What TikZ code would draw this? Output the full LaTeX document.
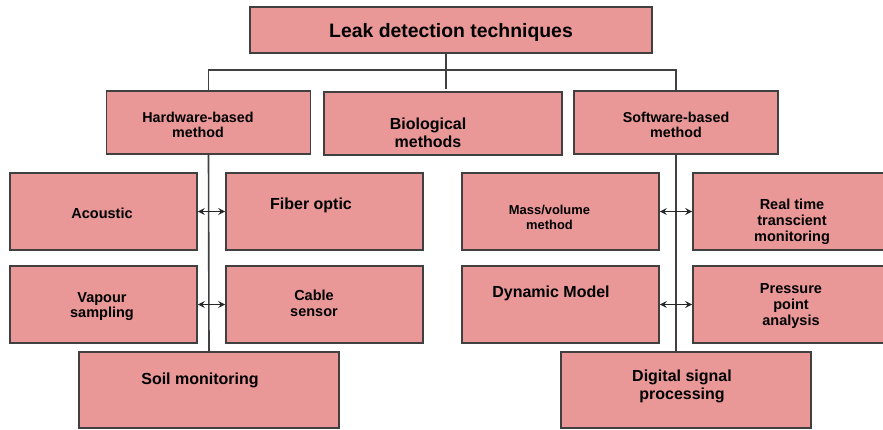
\documentclass[tikz,border=0pt]{standalone}
\usepackage{fontspec}
\setmainfont{Liberation Sans}
\usetikzlibrary{arrows.meta}
\definecolor{boxfill}{HTML}{E99797}
\definecolor{edge}{HTML}{404040}
\tikzset{
  box/.style={draw=edge, fill=boxfill, line width=1.6pt, inner sep=0pt},
  lbl/.style={inner sep=0pt, align=center, yshift=-1.5pt},
  fs/.style 2 args={font=\bfseries\fontsize{#1}{#2}\selectfont},
  link/.style={draw=edge, line width=1.6pt},
  tip/.style={Stealth[length=7pt,width=7pt,inset=2.5pt]},
  biarrow/.style={draw=black!85, line width=1.3pt, {Stealth[length=7pt,width=7pt,inset=2.5pt]}-{Stealth[length=7pt,width=7pt,inset=2.5pt]}}
}
\begin{document}
\begin{tikzpicture}[x=1pt,y=-1pt]
\useasboundingbox (0,0) rectangle (883,430);
\clip (0,0) rectangle (883,430);

% boxes
\node[box, minimum width=402pt, minimum height=46pt] (top) at (451,30) {};
\node[box, minimum width=204pt, minimum height=63pt] (hw) at (208.5,122.5) {};
\node[box, minimum width=238pt, minimum height=63pt] (bio) at (443,123.5) {};
\node[box, minimum width=204pt, minimum height=63pt] (sw) at (676,122.5) {};

\node[box, minimum width=187pt, minimum height=77pt] (acoustic) at (103.5,211.5) {};
\node[box, minimum width=197pt, minimum height=77pt] (fiber) at (324.5,211.5) {};
\node[box, minimum width=187pt, minimum height=77pt] (vapour) at (103.5,304.5) {};
\node[box, minimum width=197pt, minimum height=77pt] (cable) at (324.5,304.5) {};
\node[box, minimum width=260pt, minimum height=76pt] (soil) at (209,390) {};

\node[box, minimum width=197pt, minimum height=77pt] (mass) at (560.5,211.5) {};
\node[box, minimum width=200pt, minimum height=77pt] (realtime) at (793,211.5) {};
\node[box, minimum width=197pt, minimum height=77pt] (dynamic) at (560.5,304.5) {};
\node[box, minimum width=200pt, minimum height=77pt] (pressure) at (793,304.5) {};
\node[box, minimum width=250pt, minimum height=76pt] (dsp) at (686,390) {};

% texts
\node[lbl, fs={19.4}{21}] (ttop) at (451,31) {Leak detection techniques};
\node[lbl, fs={14.3}{15}] (thw) at (198,123.5) {Hardware-based\\method};
\node[lbl, fs={16}{18}] (tbio) at (428,131) {Biological\\methods};
\node[lbl, fs={14.3}{15}] (tsw) at (676,123.5) {Software-based\\method};
\node[lbl, fs={14.5}{16}] (tacoustic) at (102,212) {Acoustic};
\node[lbl, fs={16}{18}] (tfiber) at (311,204) {Fiber optic};
\node[lbl, fs={14.5}{15.5}] (tvapour) at (102,305) {Vapour\\sampling};
\node[lbl, fs={14.5}{16}] (tcable) at (314,302) {Cable\\sensor};
\node[lbl, fs={16}{18}] (tsoil) at (200,379) {Soil monitoring};
\node[lbl, fs={12.9}{15}] (tmass) at (549.5,216) {Mass/volume\\method};
\node[lbl, fs={14.5}{16}] (trealtime) at (792,220) {Real time\\transcient\\monitoring};
\node[lbl, fs={16}{18}] (tdynamic) at (551,292) {Dynamic Model};
\node[lbl, fs={14.5}{16}] (tpressure) at (791,305) {Pressure\\point\\analysis};
\node[lbl, fs={16}{17.5}] (tdsp) at (682,385) {Digital signal\\processing};

% tree connectors
\coordinate (bus) at (446,70);
\coordinate (hub) at (446,89);
\draw[link] (top.south -| hub) -- (hub);
\draw[link] (hw.north) |- (bus) -| (sw.north);
\draw[link] (hw.south) -- (soil.north);
\draw[link] (sw.south) -- (sw.south |- dsp.north);

% double arrows between neighbouring techniques
\draw[biarrow] (acoustic.east) -- (fiber.west);
\draw[biarrow] (vapour.east) -- (cable.west);
\draw[biarrow] (mass.east) -- (realtime.west);
\draw[biarrow] (dynamic.east) -- (pressure.west);
\end{tikzpicture}
\end{document}
